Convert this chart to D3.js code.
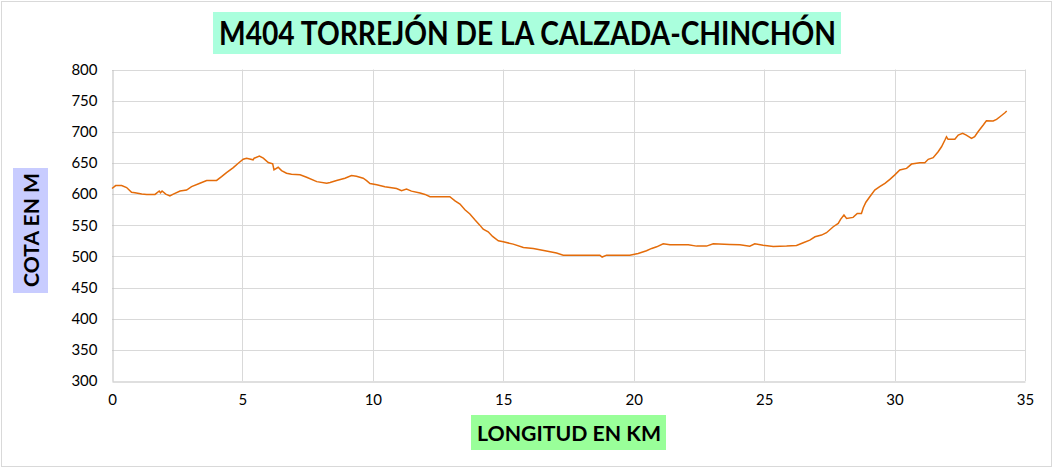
<!DOCTYPE html>
<html><head><meta charset="utf-8">
<script src="https://cdn.jsdelivr.net/npm/d3@7"></script>
<style>body{margin:0;background:#fff}svg{display:block}</style>
</head><body>
<svg id="c" width="1054" height="469"></svg>
<script>
const titleText = "M404 TORREJÓN DE LA CALZADA-CHINCHÓN";
const xLabel = "LONGITUD EN KM";
const yLabel = "COTA EN M";
const xTicks = [0,5,10,15,20,25,30,35];
const yTicks = [300,350,400,450,500,550,600,650,700,750,800];
const distanceKm = [0,0.14,0.37,0.56,0.75,0.88,1.14,1.33,1.65,1.81,1.86,1.92,2.06,2.22,2.35,2.61,2.86,3.05,3.37,3.63,4.01,4.2,4.39,4.65,4.84,5.03,5.16,5.41,5.45,5.65,5.8,5.99,6.16,6.21,6.37,6.5,6.69,6.88,7.21,7.46,7.85,8.23,8.36,8.61,8.93,9.18,9.37,9.63,9.76,9.89,10.15,10.46,10.91,11.1,11.29,11.48,11.81,12.0,12.19,12.95,13.15,13.34,13.53,13.72,13.91,14.1,14.23,14.42,14.59,14.81,15.0,15.38,15.77,16.15,16.6,17.04,17.3,18.7,18.79,18.96,19.85,20.17,20.49,20.69,20.88,21.13,21.39,22.09,22.41,22.79,23.05,23.69,24.07,24.45,24.64,24.96,25.35,25.86,26.24,26.5,26.75,26.95,27.2,27.39,27.65,27.84,27.93,28.06,28.16,28.41,28.57,28.73,28.8,28.9,29.05,29.24,29.43,29.63,29.82,30.0,30.2,30.46,30.65,30.97,31.16,31.29,31.48,31.67,31.8,31.93,31.99,32.05,32.31,32.44,32.61,32.75,32.95,33.07,33.2,33.4,33.52,33.78,33.91,34.04,34.23,34.3];
const elevationM = [609,613.7,613.7,610.5,603,602,600,599.5,599.5,605,602,605,600,597,600,605,606.5,612,617.5,621.7,622,628,634.5,642.5,649.6,656,657.6,655,657.6,661,657.6,650.6,648.5,639,643,637.8,633.5,632,631,627,620,617.5,618.5,621.7,625.5,629.7,628.5,625.5,621.7,617,615,611.7,609,605.3,608,604.8,601.6,599.5,595.7,595.7,589,584,574.8,568,558.7,550.2,543.8,539.5,532,525,523.4,519.7,514.4,512.7,509,505.3,502,502,499,502,502,504.8,509,512.8,515.4,520.3,518.6,518.6,516.5,516.5,520.3,519.2,518.6,516.5,520.3,517.9,516,516.5,517.4,521.8,526.2,531.5,534.2,538,547.6,553,559.5,566.4,561,562.6,569,569,578,587,595.8,606.5,611.8,617.2,623.6,630.5,638.6,641.3,648.2,650.4,650.4,655.8,658.4,668,676,686.8,692.1,687.9,687.9,694.8,697.5,694.8,689.5,692.1,700.1,710.9,717.8,717.4,720,724.2,730.6,733.3];

const svg = d3.select("#c");
const L = 112, R = 1025, T = 69.5, B = 381;
const x = d3.scaleLinear().domain([0,35]).range([L,R]);
const y = d3.scaleLinear().domain([300,800]).range([B,T]);
const font = "Lato, 'Open Sans', sans-serif";

svg.append("rect").attr("x",1.5).attr("y",1.5).attr("width",1050).attr("height",465)
  .attr("fill","#fff").attr("stroke","#d9d9d9");

// gridlines
svg.append("g").selectAll("line").data(yTicks.filter(d=>d>300)).join("line")
  .attr("x1",L).attr("x2",R).attr("y1",d=>Math.round(y(d))+0.5).attr("y2",d=>Math.round(y(d))+0.5)
  .attr("stroke","#d9d9d9").attr("stroke-width",1);
svg.append("g").selectAll("line").data(xTicks.filter(d=>d>0)).join("line")
  .attr("y1",T).attr("y2",B).attr("x1",d=>Math.round(x(d))+0.5).attr("x2",d=>Math.round(x(d))+0.5)
  .attr("stroke","#d9d9d9").attr("stroke-width",1);

// axes
const ya = svg.append("g").attr("transform",`translate(${L+0.5},0)`)
  .call(d3.axisLeft(y).tickValues(yTicks).tickSize(0).tickPadding(15));
const xa = svg.append("g").attr("transform",`translate(0,${B+0.5})`)
  .call(d3.axisBottom(x).tickValues(xTicks).tickSize(0).tickPadding(13));
[ya,xa].forEach(g=>{
  g.select(".domain").attr("stroke","#bfbfbf");
  g.selectAll("text").attr("font-family",font).attr("font-size",15).attr("fill","#000");
});

// line
const pts = distanceKm.map((d,i)=>[d,elevationM[i]]);
svg.append("path").datum(pts)
  .attr("d",d3.line().x(d=>x(d[0])).y(d=>y(d[1])))
  .attr("fill","none").attr("stroke","#E46C0A").attr("stroke-width",1.5);

// title
svg.append("rect").attr("x",213).attr("y",12).attr("width",628).attr("height",42).attr("fill","#AAFFDD");
svg.append("text").attr("x",219).attr("y",45).attr("font-family",font).attr("font-weight","bold")
  .attr("font-size",32).attr("textLength",617).attr("lengthAdjust","spacingAndGlyphs").attr("fill","#000").text(titleText);

// x label
svg.append("rect").attr("x",471).attr("y",415).attr("width",195).attr("height",35).attr("fill","#99FF99");
svg.append("text").attr("x",477).attr("y",441).attr("font-family",font).attr("font-weight","bold")
  .attr("font-size",21).attr("textLength",184).attr("lengthAdjust","spacingAndGlyphs").attr("fill","#000").text(xLabel);

// y label
svg.append("rect").attr("x",13).attr("y",168).attr("width",35).attr("height",125).attr("fill","#C8CCFF");
svg.append("text").attr("transform","translate(39,287) rotate(-90)").attr("font-family",font).attr("font-weight","bold")
  .attr("font-size",21).attr("textLength",114).attr("lengthAdjust","spacingAndGlyphs").attr("fill","#000").text(yLabel);
</script>
</body></html>
